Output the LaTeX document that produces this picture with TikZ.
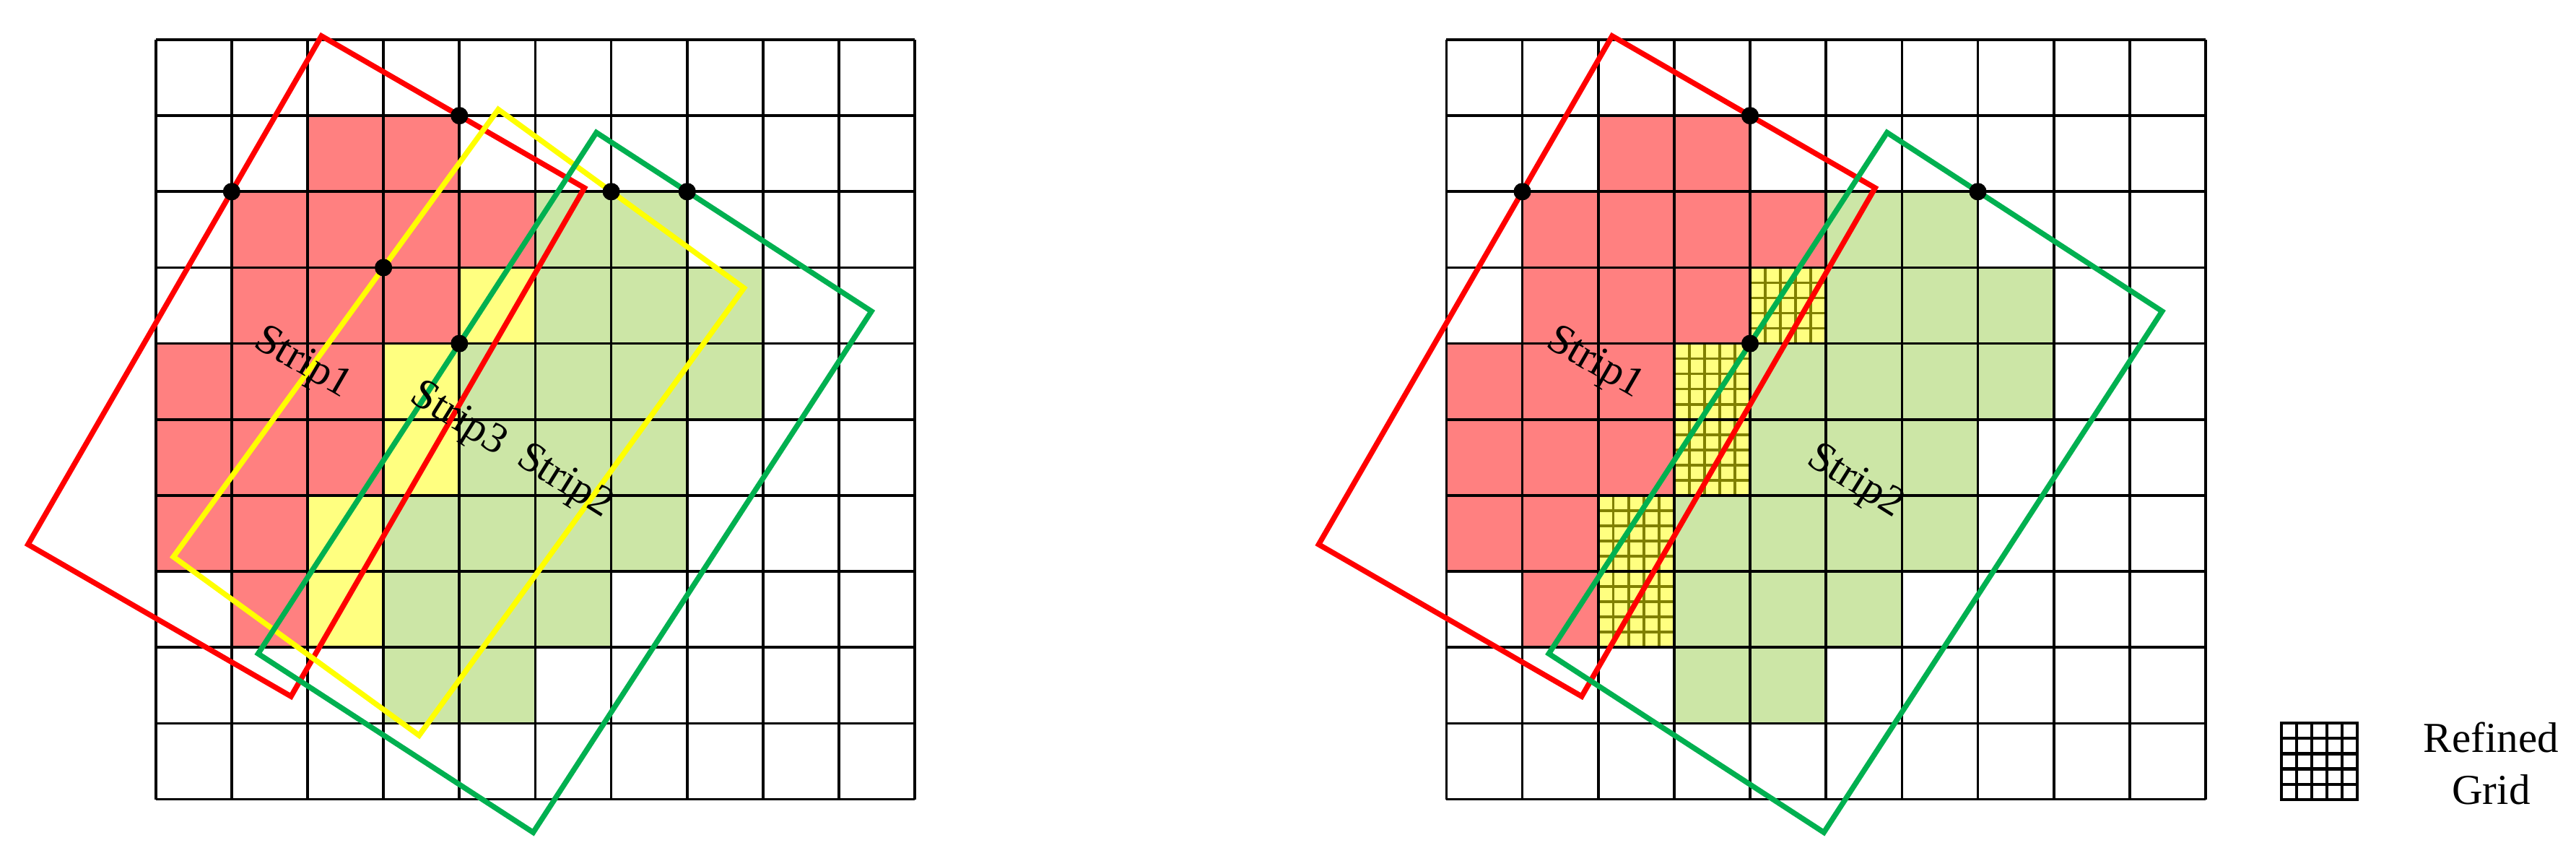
\documentclass[tikz,border=0pt]{standalone}
\usepackage{fontspec}
\setmainfont{Liberation Serif}
\definecolor{cellR}{RGB}{255,128,128}
\definecolor{cellG}{RGB}{204,230,166}
\definecolor{cellY}{RGB}{255,255,128}
\definecolor{stripR}{RGB}{255,0,0}
\definecolor{stripY}{RGB}{255,255,0}
\definecolor{stripG}{RGB}{0,176,80}
\definecolor{fineline}{RGB}{128,128,0}
\tikzset{
  gridln/.style={line width=1pt, black},
  stripred/.style={line width=2pt, stripR, line join=miter},
  stripyel/.style={line width=2pt, stripY, line join=miter},
  stripgrn/.style={line width=2pt, stripG, line join=miter},
  finegrid/.style={line width=0.95pt, fineline},
  dotnode/.style={circle, fill=black, inner sep=0pt, minimum size=0.23cm},
  lbl/.style={font=\fontsize{16}{19.4}\selectfont, inner sep=0pt},
}
\newcommand{\redcells}{\foreach \cx/\cy in {2/8,3/8,1/7,2/7,3/7,4/7,1/6,2/6,3/6,0/5,1/5,2/5,0/4,1/4,2/4,0/3,1/3,1/2}
  {\fill[cellR] (\cx,\cy) rectangle ++(1,1);}}
\newcommand{\greencells}{\foreach \cx/\cy in {5/7,6/7,5/6,6/6,7/6,4/5,5/5,6/5,7/5,4/4,5/4,6/4,3/3,4/3,5/3,6/3,3/2,4/2,5/2,3/1,4/1}
  {\fill[cellG] (\cx,\cy) rectangle ++(1,1);}}
\newcommand{\mainlines}{\draw[gridln] (0,0) grid (10,10);}
\begin{document}
\begin{tikzpicture}[x=1cm,y=1cm]
\useasboundingbox (-2.051,-0.811) rectangle (31.879,10.523);
% ---------- left panel ----------
\begin{scope}
  \redcells
  \greencells
  \foreach \cx/\cy in {4/6,3/5,3/4,2/3,2/2} {\fill[cellY] (\cx,\cy) rectangle ++(1,1);}
  \mainlines
  \draw[stripred] (2.183,10.049) -- (5.647,8.049) -- (1.782,1.355) -- (-1.682,3.355) -- cycle;
  \draw[stripyel] (4.512,9.082) -- (7.748,6.731) -- (3.469,0.841) -- (0.233,3.192) -- cycle;
  \draw[stripgrn] (5.804,8.778) -- (9.427,6.425) -- (4.972,-0.436) -- (1.349,1.917) -- cycle;
  \node[dotnode] (L1) at (1,8) {};
  \node[dotnode] (L2) at (4,9) {};
  \node[dotnode] (L3) at (3,7) {};
  \node[dotnode] (L4) at (4,6) {};
  \node[dotnode] (L5) at (6,8) {};
  \node[dotnode] (L6) at (7,8) {};
  \node[lbl, rotate=-30] (ls1) at (1.93,5.73) {Strip1};
  \node[lbl, rotate=-32] (ls3) at (3.98,4.99) {Strip3};
  \node[lbl, rotate=-32] (ls2) at (5.38,4.17) {Strip2};
\end{scope}
% ---------- right panel ----------
\begin{scope}[xshift=17cm]
  \redcells
  \greencells
  \foreach \cx/\cy in {4/6,3/5,3/4,2/3,2/2} {
    \fill[cellY] (\cx,\cy) rectangle ++(1,1);
    \foreach \k in {0.2,0.4,0.6,0.8} {
      \draw[finegrid] (\cx+\k,\cy) -- ++(0,1);
      \draw[finegrid] (\cx,\cy+\k) -- ++(1,0);
    }
  }
  \mainlines
  \draw[stripred] (2.183,10.049) -- (5.647,8.049) -- (1.782,1.355) -- (-1.682,3.355) -- cycle;
  \draw[stripgrn] (5.804,8.778) -- (9.427,6.425) -- (4.972,-0.436) -- (1.349,1.917) -- cycle;
  \node[dotnode] (R1) at (1,8) {};
  \node[dotnode] (R2) at (4,9) {};
  \node[dotnode] (R4) at (4,6) {};
  \node[dotnode] (R6) at (7,8) {};
  \node[lbl, rotate=-30] (rs1) at (1.95,5.73) {Strip1};
  \node[lbl, rotate=-32] (rs2) at (5.38,4.17) {Strip2};
  % legend
  \draw[line width=1.1pt, black] (11,0) grid[step=0.2] (12,1);
  \draw[line width=1.1pt, black] (11,0) rectangle (12,1);
  \node[lbl, align=center] (legtxt) at (13.76,0.47) {Refined\\Grid};
\end{scope}
\end{tikzpicture}
\end{document}
